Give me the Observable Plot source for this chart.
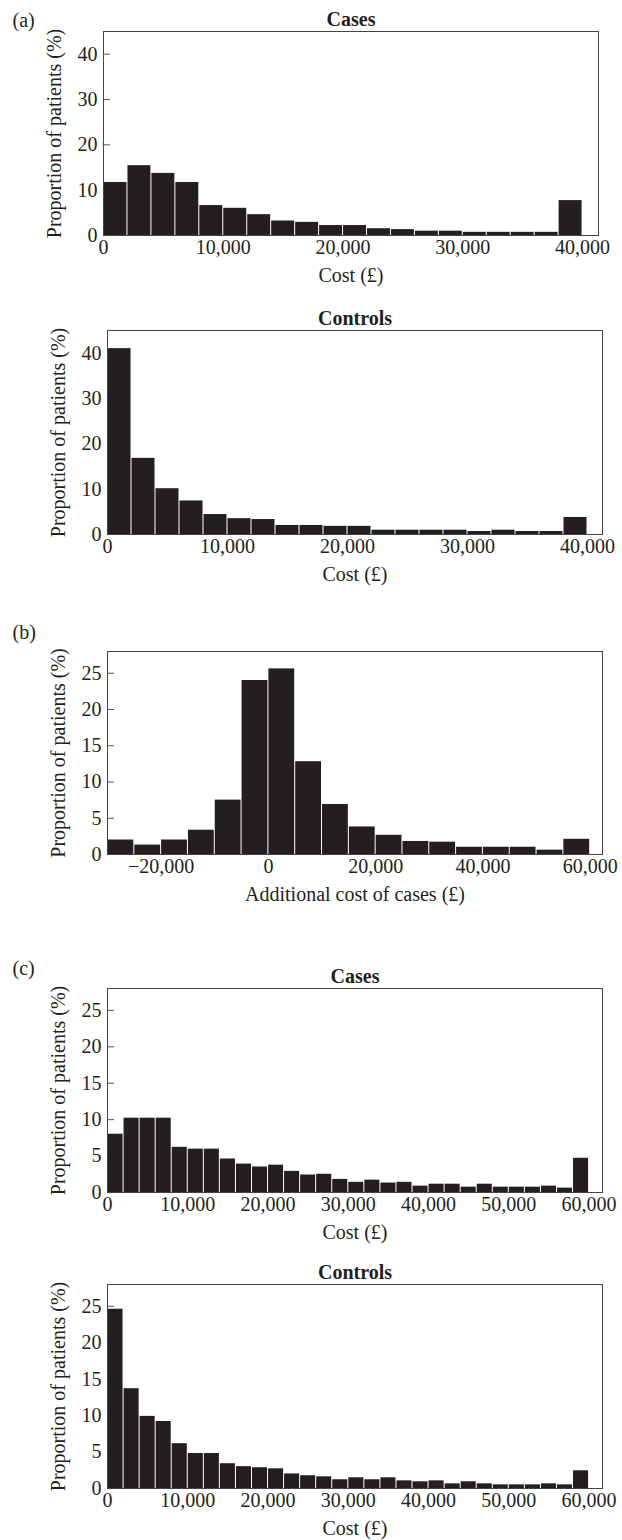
<!DOCTYPE html>
<html><head><meta charset="utf-8">
<script src="https://cdn.jsdelivr.net/npm/d3@7"></script>
<script src="https://cdn.jsdelivr.net/npm/@observablehq/plot@0.6"></script>
<style>
body{margin:0;background:#fff;}
#chart{width:622px;}
#chart svg{display:block;}
</style>
</head><body><div id="chart"></div>
<script>
// ---- data ----
const binsA = [0,2000,4000,6000,8000,10000,12000,14000,16000,18000,20000,22000,24000,26000,28000,30000,32000,34000,36000,38000];
const casesA = [11.7,15.4,13.7,11.7,6.6,6.0,4.6,3.2,2.9,2.2,2.2,1.5,1.3,0.95,0.95,0.7,0.7,0.7,0.7,7.7];
const controlsA = [41.0,16.8,10.1,7.4,4.4,3.5,3.3,2.0,2.0,1.8,1.8,0.95,0.95,0.95,0.95,0.66,0.95,0.66,0.66,3.75];

const binsB = [-30000,-25000,-20000,-15000,-10000,-5000,0,5000,10000,15000,20000,25000,30000,35000,40000,45000,50000,55000];
const diffB = [2.0,1.3,2.0,3.35,7.5,24.0,25.6,12.8,6.9,3.8,2.65,1.8,1.7,1.0,1.0,1.0,0.6,2.1];

const binsC = [0,2000,4000,6000,8000,10000,12000,14000,16000,18000,20000,22000,24000,26000,28000,30000,32000,34000,36000,38000,40000,42000,44000,46000,48000,50000,52000,54000,56000,58000];
const casesC = [8.0,10.2,10.2,10.2,6.2,5.95,5.95,4.6,3.9,3.5,3.75,2.9,2.4,2.5,1.8,1.4,1.7,1.3,1.4,0.87,1.14,1.14,0.73,1.14,0.73,0.73,0.73,0.87,0.6,4.7];
const controlsC = [24.6,13.7,9.9,9.2,6.15,4.8,4.8,3.4,3.0,2.85,2.7,2.0,1.75,1.6,1.2,1.47,1.2,1.47,1.05,0.92,1.05,0.64,0.92,0.64,0.5,0.5,0.5,0.64,0.5,2.43];

const xTicksA = [0,10000,20000,30000,40000];
const xTicksB = [-20000,0,20000,40000,60000];
const xTicksC = [0,10000,20000,30000,40000,50000,60000];
const yTicksA = [0,10,20,30,40];
const yTicksBC = [0,5,10,15,20,25];

const yLabel = "Proportion of patients (%)";
const costLabel = "Cost (£)";
const diffLabel = "Additional cost of cases (£)";

// ---- drawing ----
const FONT = "'Liberation Serif', 'Times New Roman', serif";
const INK = "#231f20";

function panel(o) {
  const data = o.bins.map((b, i) => ({x1: b, x2: b + o.binWidth, y: o.values[i]}));
  const marks = [
    Plot.axisY({ticks: o.yTicks, tickSize: -7, tickPadding: 13, stroke: "#555", fill: INK, label: null, fontSize: 20}),
    Plot.axisX({ticks: o.xTicks, tickSize: 0, tickPadding: 4, tickFormat: d3.format(","), fill: INK, label: null, fontSize: 20}),
    Plot.rectY(data, {x1: "x1", x2: "x2", y: "y", fill: INK, insetLeft: 0.5, insetRight: 0.5}),
    Plot.frame({stroke: "#444", strokeWidth: 1}),
    Plot.text([yLabel], {text: d => d, frameAnchor: "left", rotate: -90, dx: -49, textAnchor: "middle", lineAnchor: "middle", fontSize: 20, fill: INK}),
    Plot.text([o.xLabel], {text: d => d, frameAnchor: "bottom", dy: 46, lineAnchor: "bottom", fontSize: 20, fill: INK})
  ];
  if (o.title) marks.push(Plot.text([o.title], {text: d => d, frameAnchor: "top", dy: -6, lineAnchor: "bottom", fontWeight: "bold", fontSize: 20, fill: INK}));
  if (o.tag) marks.push(Plot.text([o.tag], {text: d => d, frameAnchor: "top-left", dx: 12 - o.marginLeft, dy: -o.tagOffset, textAnchor: "start", lineAnchor: "bottom", fontSize: 20, fill: INK}));
  return Plot.plot({
    width: 622,
    height: o.height,
    marginTop: o.marginTop,
    marginBottom: o.marginBottom,
    marginLeft: o.marginLeft,
    marginRight: o.marginRight,
    style: {fontFamily: FONT, fontSize: "20px", background: "white", color: INK, overflow: "visible"},
    x: {domain: o.xDomain},
    y: {domain: o.yDomain},
    marks
  });
}

const chart = document.getElementById("chart");
chart.append(panel({bins: binsA, binWidth: 2000, values: casesA, xDomain: [0, 41330], yDomain: [0, 45], xTicks: xTicksA, yTicks: yTicksA,
  title: "Cases", tag: "(a)", tagOffset: 5, xLabel: costLabel, height: 290, marginTop: 31, marginBottom: 55, marginLeft: 103, marginRight: 24}));
chart.append(panel({bins: binsA, binWidth: 2000, values: controlsA, xDomain: [0, 41250], yDomain: [0, 45], xTicks: xTicksA, yTicks: yTicksA,
  title: "Controls", xLabel: costLabel, height: 300, marginTop: 40, marginBottom: 56, marginLeft: 107, marginRight: 20}));
chart.append(panel({bins: binsB, binWidth: 5000, values: diffB, xDomain: [-30000, 62300], yDomain: [0, 28], xTicks: xTicksB, yTicks: yTicksBC,
  tag: "(b)", tagOffset: 13, xLabel: diffLabel, height: 320, marginTop: 61, marginBottom: 56, marginLeft: 107, marginRight: 20}));
chart.append(panel({bins: binsC, binWidth: 2000, values: casesC, xDomain: [0, 61670], yDomain: [0, 28], xTicks: xTicksC, yTicks: yTicksBC,
  title: "Cases", tag: "(c)", tagOffset: 14, xLabel: costLabel, height: 340, marginTop: 78, marginBottom: 58, marginLeft: 107, marginRight: 20}));
chart.append(panel({bins: binsC, binWidth: 2000, values: controlsC, xDomain: [0, 61670], yDomain: [0, 28], xTicks: xTicksC, yTicks: yTicksBC,
  title: "Controls", xLabel: costLabel, height: 290, marginTop: 34, marginBottom: 52, marginLeft: 107, marginRight: 20}));
</script>
</body></html>
